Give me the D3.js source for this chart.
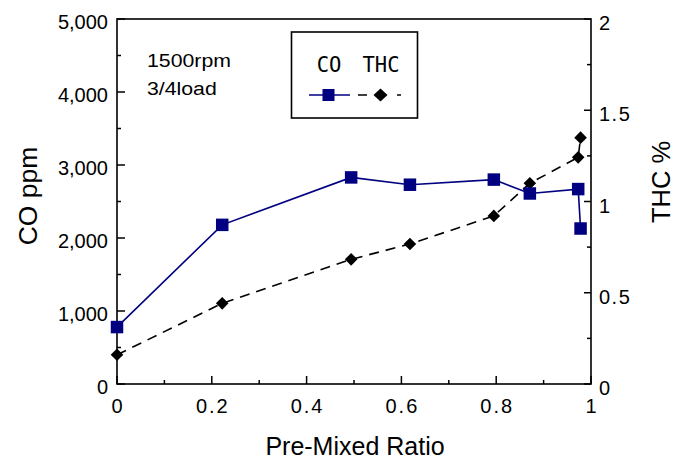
<!DOCTYPE html>
<html>
<head>
<meta charset="utf-8">
<script src="https://cdn.jsdelivr.net/npm/d3@7"></script>
<style>
  body { margin: 0; background: #fff; }
  svg { display: block; }
  text { font-family: "Liberation Sans", Arial, sans-serif; fill: #000; }
</style>
</head>
<body>
<svg id="chart" width="677" height="461"></svg>
<script>
// Pre-mixed ratio and emissions at 1500 rpm, 3/4 load
const ratio = [0, 0.222, 0.494, 0.618, 0.795, 0.871, 0.973, 0.978];
const coPpm = [780, 2180, 2830, 2730, 2800, 2610, 2670, 2130];
const thcPct = [0.16, 0.442, 0.683, 0.767, 0.921, 1.10, 1.242, 1.35];

const xTicks = [0, 0.2, 0.4, 0.6, 0.8, 1];
const coTicks = [0, 1000, 2000, 3000, 4000, 5000];
const thcTicks = [0, 0.5, 1, 1.5, 2];
const xLabels = ["0", "0.2", "0.4", "0.6", "0.8", "1"];
const coLabels = ["0", "1,000", "2,000", "3,000", "4,000", "5,000"];
const thcLabels = ["0", "0.5", "1", "1.5", "2"];

const svg = d3.select("#chart");
const plotLeft = 117, plotRight = 591, plotTop = 19, plotBottom = 384;

const x = d3.scaleLinear().domain([0, 1]).range([plotLeft, plotRight]);
const yCO = d3.scaleLinear().domain([0, 5000]).range([plotBottom, plotTop]);
const yTHC = d3.scaleLinear().domain([0, 2]).range([plotBottom, plotTop]);

const axisColor = "#000";
const g = svg.append("g");

// frame
g.append("rect").attr("x", plotLeft).attr("y", plotTop)
  .attr("width", plotRight - plotLeft).attr("height", plotBottom - plotTop)
  .attr("fill", "none").attr("stroke", axisColor).attr("stroke-width", 1.6);

// inward ticks: majors long, minors short
const tickStyle = sel => sel.attr("stroke", axisColor).attr("stroke-width", 1.5);
d3.range(0, 1.0001, 0.1).forEach((v, i) => {
  const len = i % 2 === 0 ? 8 : 4;
  tickStyle(g.append("line").attr("x1", x(v)).attr("x2", x(v))
    .attr("y1", plotBottom).attr("y2", plotBottom - len));
});
d3.range(0, 5001, 500).forEach((v, i) => {
  const len = i % 2 === 0 ? 8 : 4;
  tickStyle(g.append("line").attr("x1", plotLeft).attr("x2", plotLeft + len)
    .attr("y1", yCO(v)).attr("y2", yCO(v)));
});
d3.range(0, 2.0001, 0.25).forEach((v, i) => {
  const len = i % 2 === 0 ? 7 : 4;
  tickStyle(g.append("line").attr("x1", plotRight).attr("x2", plotRight - len)
    .attr("y1", yTHC(v)).attr("y2", yTHC(v)));
});

// tick labels
const tickFont = "20px";
xTicks.forEach((v, i) => {
  g.append("text").attr("x", x(v) + 1).attr("y", 413)
    .attr("text-anchor", "middle").style("font-size", tickFont)
    .style("letter-spacing", "2px").text(xLabels[i]);
});
coTicks.forEach((v, i) => {
  g.append("text").attr("x", 108).attr("y", yCO(v) + 10)
    .attr("text-anchor", "end").style("font-size", tickFont)
    .text(coLabels[i]);
});
thcTicks.forEach((v, i) => {
  g.append("text").attr("x", 599).attr("y", yTHC(v) + 11)
    .attr("text-anchor", "start").style("font-size", tickFont)
    .style("letter-spacing", "1.5px").text(thcLabels[i]);
});

// axis titles
g.append("text").attr("transform", "translate(37,196) rotate(-90)")
  .attr("text-anchor", "middle").style("font-size", "26.5px").text("CO  ppm");
g.append("text").attr("transform", "translate(670,182) rotate(-90)")
  .attr("text-anchor", "middle").style("font-size", "25.5px").text("THC  %");
g.append("text").attr("x", 355).attr("y", 455)
  .attr("text-anchor", "middle").style("font-size", "25px").text("Pre-Mixed Ratio");

// condition note
g.append("text").attr("transform", "translate(147,67) scale(1.12,1)")
  .style("font-size", "19px").text("1500rpm");
g.append("text").attr("transform", "translate(147,94.5) scale(1.12,1)")
  .style("font-size", "19px").text("3/4load");

// series
const coColor = "#000080";
const coLine = d3.line().x((d, i) => x(ratio[i])).y(d => yCO(d));
const thcLine = d3.line().x((d, i) => x(ratio[i])).y(d => yTHC(d));

svg.append("path").datum(thcPct).attr("d", thcLine)
  .attr("fill", "none").attr("stroke", "#000").attr("stroke-width", 1.6)
  .attr("stroke-dasharray", "10,7");
svg.append("path").datum(coPpm).attr("d", coLine)
  .attr("fill", "none").attr("stroke", coColor).attr("stroke-width", 1.6);

const diamondPath = (hw, hh) => `M0,${-hh}L${hw},0L0,${hh}L${-hw},0Z`;
svg.selectAll(".thc").data(thcPct).join("path")
  .attr("transform", (d, i) => `translate(${x(ratio[i])},${yTHC(d)})`)
  .attr("d", diamondPath(6.3, 6.3)).attr("fill", "#000");
const sq = 12.5;
svg.selectAll(".co").data(coPpm).join("rect")
  .attr("x", (d, i) => x(ratio[i]) - sq / 2).attr("y", d => yCO(d) - sq / 2)
  .attr("width", sq).attr("height", sq).attr("fill", coColor);

// legend
const lg = svg.append("g");
lg.append("rect").attr("x", 291.5).attr("y", 32).attr("width", 126).attr("height", 86)
  .attr("fill", "#fff").attr("stroke", "#000").attr("stroke-width", 1.6);
const legendFont = "'DejaVu Sans Mono', monospace";
lg.append("text").attr("x", 329).attr("y", 72).attr("text-anchor", "middle")
  .style("font-size", "20.5px").style("font-family", legendFont).text("CO");
lg.append("text").attr("x", 381).attr("y", 72).attr("text-anchor", "middle")
  .style("font-size", "20.5px").style("font-family", legendFont).text("THC");
lg.append("line").attr("x1", 309).attr("x2", 350).attr("y1", 95).attr("y2", 95)
  .attr("stroke", coColor).attr("stroke-width", 1.6);
lg.append("rect").attr("x", 328.5 - 6).attr("y", 95 - 6)
  .attr("width", 12).attr("height", 12).attr("fill", coColor);
lg.append("line").attr("x1", 358).attr("x2", 401).attr("y1", 95).attr("y2", 95)
  .attr("stroke", "#000").attr("stroke-width", 1.6).attr("stroke-dasharray", "9,30,4");
lg.append("path").attr("transform", "translate(380.5,95)")
  .attr("d", diamondPath(7, 6.5)).attr("fill", "#000");
</script>
</body>
</html>
